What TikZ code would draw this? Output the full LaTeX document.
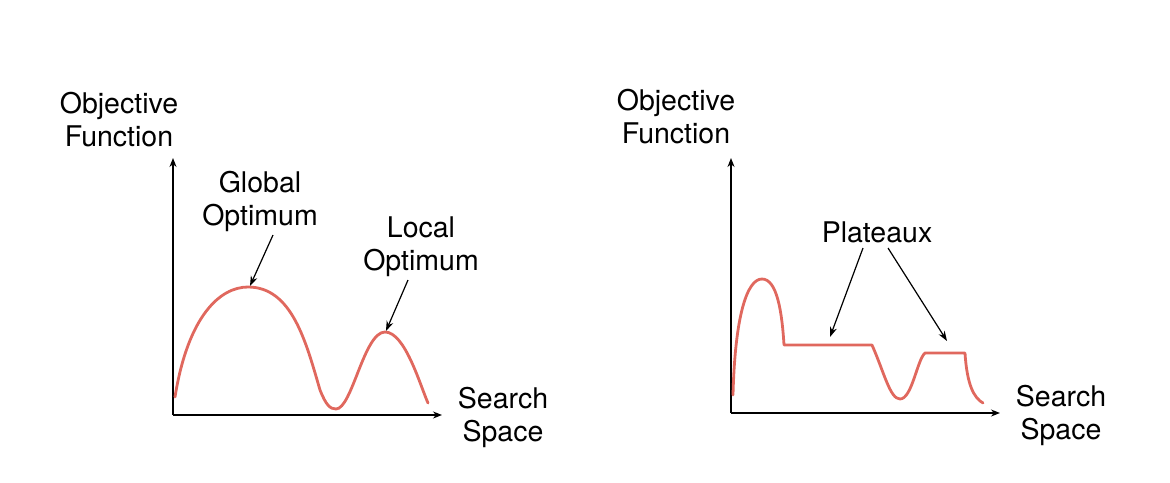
\documentclass[tikz,border=0pt]{standalone}
\usepackage{fontspec}
\setmainfont{TeX Gyre Heros}
\usetikzlibrary{arrows.meta}
\definecolor{curvecol}{RGB}{224,104,94}
\tikzset{
  lbl/.style={align=center, inner sep=0pt, font=\fontsize{28.5}{33}\selectfont},
  axis/.style={line width=1.3pt, -{Stealth[length=9pt,width=7pt]}},
  ptr/.style={line width=1.2pt, -{Stealth[length=10pt,width=7pt]}},
  curve/.style={draw=curvecol, line width=2.8pt, line join=round, line cap=round}
}
\begin{document}
\begin{tikzpicture}[x=1pt,y=-1pt]
\useasboundingbox (0,0) rectangle (1170,482);
% ---------- left plot ----------
\coordinate (lo) at (173,415);
\coordinate (ly) at (173,158);
\coordinate (lx) at (442,415);
\draw[axis] (lo) -- (ly);
\draw[axis] (lo) -- (lx);
\node[lbl] (lobj) at (119,120) {Objective\\Function};
\node[lbl] (lss) at (503,417) {Search\\Space};
\node[lbl] (glob) at (260,201) {Global\\Optimum};
\node[lbl] (loc) at (421,247) {Local\\Optimum};
\draw[curve] (175,397) .. controls (188,316) and (220,287) .. (248,287)
  .. controls (292,287) and (306,342) .. (320,390)
  .. controls (326,405) and (330,409) .. (336,409)
  .. controls (352,409) and (364,332) .. (385,332)
  .. controls (405,332) and (420,385) .. (428,403);
\coordinate (gs) at (273,235);
\coordinate (ge) at (250,286);
\coordinate (ls) at (408,280);
\coordinate (le) at (386,331);
\draw[ptr] (gs) -- (ge);
\draw[ptr] (ls) -- (le);
% ---------- right plot ----------
\coordinate (ro) at (731,413);
\coordinate (ry) at (731,158);
\coordinate (rx) at (1000,413);
\draw[axis] (ro) -- (ry);
\draw[axis] (ro) -- (rx);
\node[lbl] (robj) at (676,117) {Objective\\Function};
\node[lbl] (rss) at (1061,415) {Search\\Space};
\node[lbl] (plat) at (877,232) {Plateaux};
\draw[curve] (733,395) .. controls (735,316) and (747,279) .. (762,279)
  .. controls (777,279) and (782,312) .. (784,345)
  -- (872,345)
  .. controls (884,372) and (890,399) .. (900,399)
  .. controls (912,399) and (917,360) .. (925,353)
  -- (965,353)
  .. controls (967,385) and (974,398) .. (983,403);
\coordinate (p1s) at (863,248);
\coordinate (p1e) at (830,337);
\coordinate (p2s) at (888,248);
\coordinate (p2e) at (947,341);
\draw[ptr] (p1s) -- (p1e);
\draw[ptr] (p2s) -- (p2e);
\end{tikzpicture}
\end{document}
